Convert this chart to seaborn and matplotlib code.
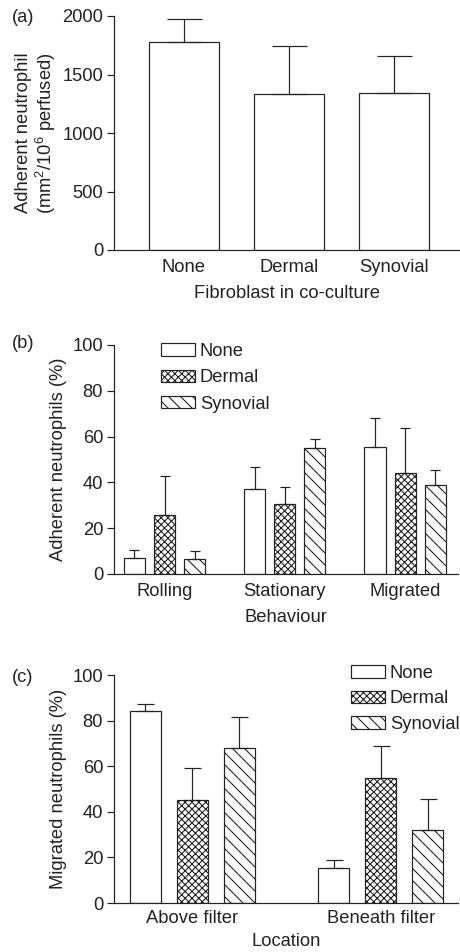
import numpy as np
import pandas as pd
import matplotlib
matplotlib.use("Agg")
import matplotlib.pyplot as plt
import matplotlib.patches as mpatches
import seaborn as sns

# ---------------- data ----------------
a_categories = ["None", "Dermal", "Synovial"]
a_means = [1780, 1330, 1345]
a_errs = [195, 410, 315]

groups = ["None", "Dermal", "Synovial"]

b_categories = ["Rolling", "Stationary", "Migrated"]
b_none = [7.1, 37.1, 55.5]
b_dermal = [25.8, 30.6, 44.0]
b_synovial = [6.6, 55.2, 38.7]
b_none_err = [3.5, 9.8, 12.8]
b_dermal_err = [16.9, 7.5, 19.9]
b_synovial_err = [3.3, 3.9, 6.7]

c_categories = ["Above filter", "Beneath filter"]
c_none = [84.0, 15.4]
c_dermal = [45.0, 54.9]
c_synovial = [67.9, 32.0]
c_none_err = [3.2, 3.6]
c_dermal_err = [14.0, 13.9]
c_synovial_err = [13.6, 13.6]

# ---------------- style ----------------
sns.set_theme(style="ticks")
DPI = 144
PT = 72.0 / DPI  # points per pixel
FS = 18.4 * PT
INK = "#222222"
plt.rcParams["font.family"] = ["Liberation Sans", "DejaVu Sans"]
plt.rcParams["mathtext.fontset"] = "custom"
plt.rcParams["mathtext.rm"] = "Liberation Sans"
plt.rcParams["mathtext.default"] = "regular"
plt.rcParams["hatch.linewidth"] = 1.1 * PT
plt.rcParams["hatch.color"] = INK
plt.rcParams["text.color"] = INK
plt.rcParams["axes.labelcolor"] = INK
plt.rcParams["xtick.color"] = INK
plt.rcParams["ytick.color"] = INK

W, H = 460, 952
fig = plt.figure(figsize=(W / DPI, H / DPI), dpi=DPI)
fig.patch.set_facecolor("white")


def make_ax(left, right, top, bottom):
    return fig.add_axes([left / W, 1 - bottom / H, (right - left) / W, (bottom - top) / H])


hatches = {"None": "", "Dermal": "xxxxxxx", "Synovial": "\\\\\\\\"}
LW = 1.2 * PT


def style_ax(ax, yticks, ylim):
    sns.despine(ax=ax)
    for s in ("left", "bottom"):
        ax.spines[s].set_color(INK)
        ax.spines[s].set_linewidth(LW)
    ax.set_ylim(*ylim)
    ax.set_yticks(yticks)
    ax.tick_params(axis="y", length=7 * PT, width=LW, pad=4 * PT, labelsize=FS, direction="out")
    ax.tick_params(axis="x", length=0, pad=9 * PT, labelsize=FS)
    ax.set_facecolor("white")


def add_errbars(ax, errs_by_hue, capsize):
    for cont, errs in zip(ax.containers, errs_by_hue):
        xs = [p.get_x() + p.get_width() / 2 for p in cont.patches]
        ys = [p.get_height() for p in cont.patches]
        ax.errorbar(xs, ys, yerr=[np.zeros(len(errs)), errs], fmt="none",
                    ecolor=INK, elinewidth=LW, capsize=capsize, capthick=LW, zorder=3)


def legend_handles():
    return [mpatches.Patch(facecolor="white", edgecolor=INK, linewidth=LW,
                           hatch=hatches[g], label=g) for g in groups]


# ---------------- panel (a) ----------------
axa = make_ax(114, 460, 16, 250)
dfa = pd.DataFrame({"cat": a_categories, "val": a_means})
sns.barplot(data=dfa, x="cat", y="val", color="white", edgecolor=INK, linewidth=LW,
            width=0.667, errorbar=None, ax=axa)
add_errbars(axa, [a_errs], capsize=17.5 * PT)
style_ax(axa, [0, 500, 1000, 1500, 2000], (0, 2000))
axa.set_xlim(-0.667, 2.63)
axa.set_xlabel("Fibroblast in co-culture", fontsize=FS, labelpad=9 * PT)
axa.set_ylabel("Adherent neutrophil\n(mm$^2$/10$^6$ perfused)", fontsize=FS,
               labelpad=4 * PT, linespacing=1.1)

# ---------------- panel (b) ----------------
axb = make_ax(114, 458, 345, 574)
dfb = pd.DataFrame({
    "cat": b_categories * 3,
    "grp": [g for g in groups for _ in b_categories],
    "val": b_none + b_dermal + b_synovial,
})
sns.barplot(data=dfb, x="cat", y="val", hue="grp", hue_order=groups,
            palette=["white"] * 3, edgecolor=INK, linewidth=LW, width=0.75, gap=0.3,
            errorbar=None, legend=False, ax=axb)
for cont, g in zip(axb.containers, groups):
    for p in cont.patches:
        p.set_hatch(hatches[g])
add_errbars(axb, [b_none_err, b_dermal_err, b_synovial_err], capsize=5 * PT)
style_ax(axb, [0, 20, 40, 60, 80, 100], (0, 100))
axb.set_xlim(-0.42, 2.44)
axb.set_xlabel("Behaviour", fontsize=FS, labelpad=9 * PT)
axb.set_ylabel("Adherent neutrophils (%)", fontsize=FS, labelpad=5 * PT)
axb.legend(handles=legend_handles(), loc="upper left", bbox_to_anchor=(0.137, 1.008),
           frameon=False, fontsize=FS, handlelength=1.83, handleheight=0.67,
           handletextpad=0.28, labelspacing=0.5, borderpad=0, borderaxespad=0)

# ---------------- panel (c) ----------------
axc = make_ax(114, 458, 675, 903)
dfc = pd.DataFrame({
    "cat": c_categories * 3,
    "grp": [g for g in groups for _ in c_categories],
    "val": c_none + c_dermal + c_synovial,
})
sns.barplot(data=dfc, x="cat", y="val", hue="grp", hue_order=groups,
            palette=["white"] * 3, edgecolor=INK, linewidth=LW, width=0.75, gap=0.34,
            errorbar=None, legend=False, ax=axc)
for cont, g in zip(axc.containers, groups):
    for p in cont.patches:
        p.set_hatch(hatches[g])
add_errbars(axc, [c_none_err, c_dermal_err, c_synovial_err], capsize=8.5 * PT)
style_ax(axc, [0, 20, 40, 60, 80, 100], (0, 100))
axc.set_xlim(-0.416, 1.41)
axc.tick_params(axis="x", pad=7 * PT)
axc.set_xlabel("Location", fontsize=FS, labelpad=6 * PT)
axc.set_ylabel("Migrated neutrophils (%)", fontsize=FS, labelpad=5 * PT)
axc.legend(handles=legend_handles(), loc="upper left", bbox_to_anchor=(0.689, 1.045),
           frameon=False, fontsize=FS, handlelength=1.83, handleheight=0.67,
           handletextpad=0.28, labelspacing=0.47, borderpad=0, borderaxespad=0)

# ---------------- panel letters ----------------
for lab, y in (("(a)", 17), ("(b)", 343), ("(c)", 677)):
    fig.text(12 / W, 1 - y / H, lab, fontsize=FS, ha="left", va="center")

fig.savefig("out.png", dpi=DPI, facecolor="white")
